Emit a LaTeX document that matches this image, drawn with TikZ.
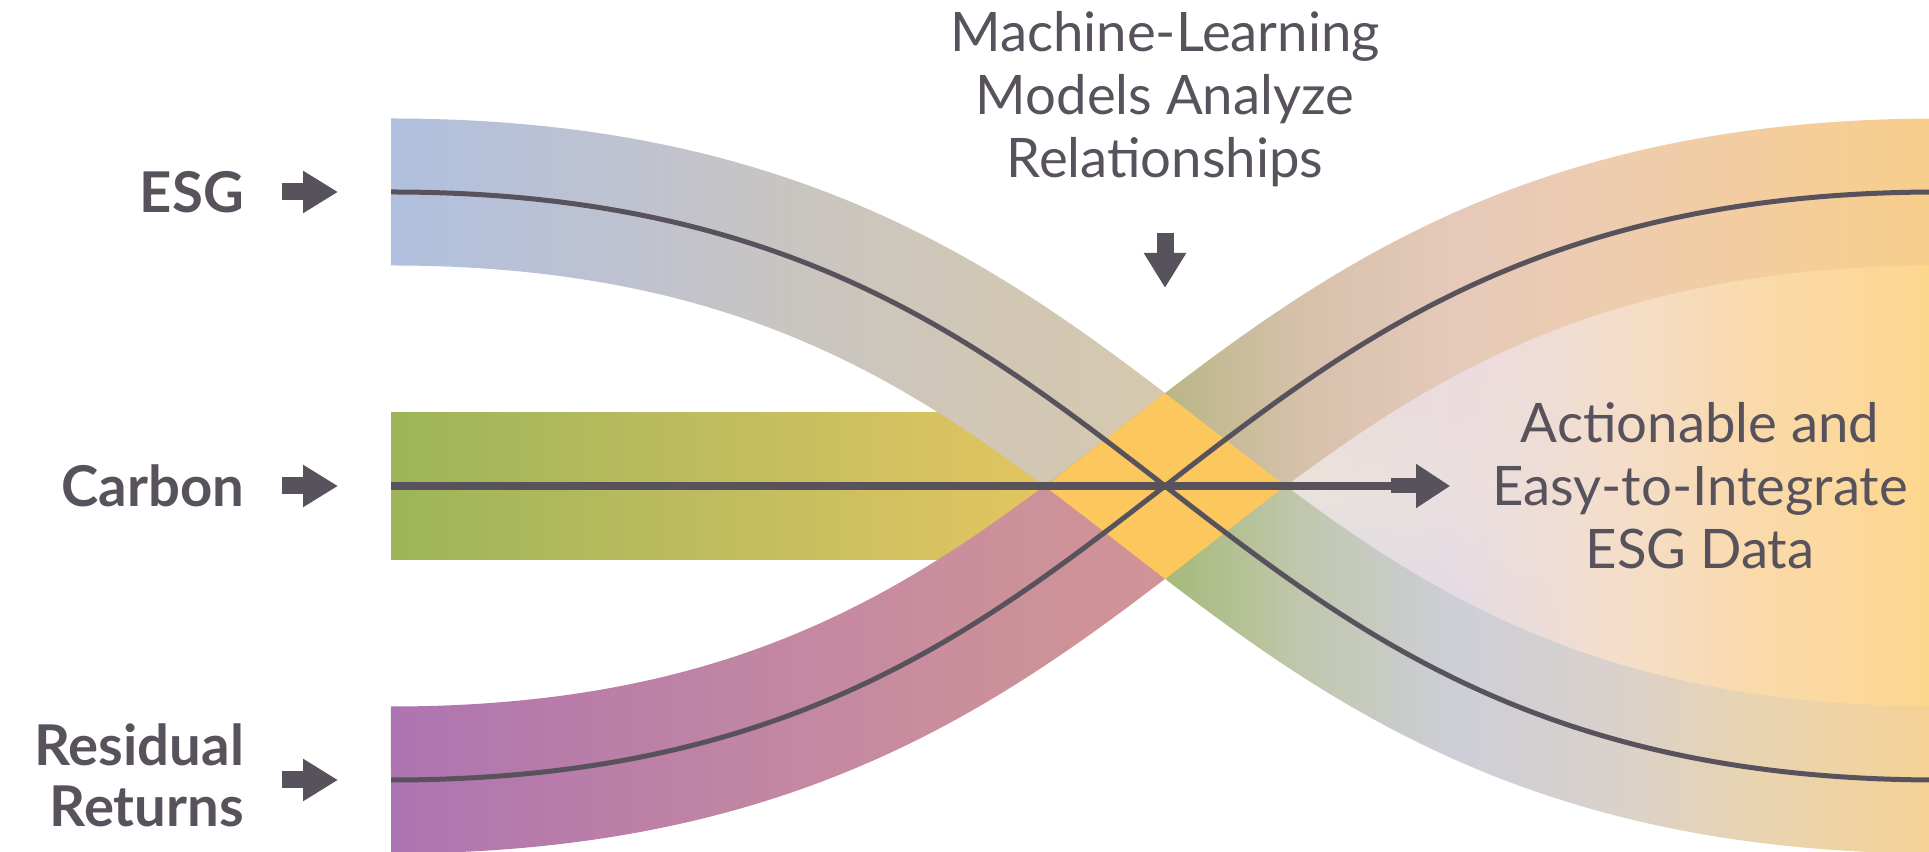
\documentclass[tikz,border=0pt]{standalone}
\usepackage{tikz}
\usepackage{fontspec}
\setmainfont{Lato}
\usetikzlibrary{positioning,calc,fadings,arrows.meta}

% colours
\definecolor{ink}{RGB}{88,82,92}
\definecolor{crosscol}{RGB}{252,200,94}
\definecolor{carbA}{RGB}{156,181,88}
\definecolor{carbB}{RGB}{198,190,96}
\definecolor{carbC}{RGB}{240,200,95}
% ESG band, left to right
\definecolor{esgA}{RGB}{176,192,222}
\definecolor{esgB}{RGB}{189,194,210}
\definecolor{esgC}{RGB}{201,197,192}
\definecolor{esgD}{RGB}{209,199,180}
\definecolor{esgE}{RGB}{213,200,174}
\definecolor{esgF}{RGB}{166,186,122}
\definecolor{esgG}{RGB}{192,199,172}
\definecolor{esgH}{RGB}{205,206,215}
\definecolor{esgI}{RGB}{216,209,205}
\definecolor{esgJ}{RGB}{233,212,178}
\definecolor{esgK}{RGB}{244,210,150}
% residual band, left to right
\definecolor{resA}{RGB}{174,116,178}
\definecolor{resB}{RGB}{186,126,168}
\definecolor{resC}{RGB}{196,136,162}
\definecolor{resD}{RGB}{204,144,154}
\definecolor{resE}{RGB}{208,148,150}
\definecolor{resF}{RGB}{186,182,136}
\definecolor{resG}{RGB}{214,193,170}
\definecolor{resH}{RGB}{229,201,186}
\definecolor{resI}{RGB}{237,204,176}
\definecolor{resJ}{RGB}{243,205,160}
\definecolor{resK}{RGB}{248,206,140}
% lens on the right
\definecolor{lensA}{RGB}{226,222,212}
\definecolor{lensB}{RGB}{230,220,222}
\definecolor{lensC}{RGB}{234,220,226}
\definecolor{lensD}{RGB}{243,222,206}
\definecolor{lensE}{RGB}{250,218,172}
\definecolor{lensF}{RGB}{253,214,142}
\definecolor{lavB}{RGB}{206,212,238}
\definecolor{creamC}{RGB}{236,230,220}
\definecolor{pinkT}{RGB}{238,214,212}

% 25bp..75bp of a shading = left..right (bottom..top) of the picture
\pgfdeclarehorizontalshading{esgshade}{100bp}{color(0bp)=(esgA); color(35.13bp)=(esgA);
	color(40.55bp)=(esgB); color(45.74bp)=(esgC); color(50.92bp)=(esgD); color(55.2bp)=(esgE);
	color(55.25bp)=(esgF); color(58.7bp)=(esgG); color(62.59bp)=(esgH); color(66.48bp)=(esgI);
	color(70.36bp)=(esgJ); color(75bp)=(esgK); color(100bp)=(esgK)}
\pgfdeclarehorizontalshading{resshade}{100bp}{color(0bp)=(resA); color(35.13bp)=(resA);
	color(40.55bp)=(resB); color(45.74bp)=(resC); color(50.92bp)=(resD); color(55.2bp)=(resE);
	color(55.25bp)=(resF); color(58.7bp)=(resG); color(62.59bp)=(resH); color(66.48bp)=(resI);
	color(70.36bp)=(resJ); color(75bp)=(resK); color(100bp)=(resK)}
\pgfdeclarehorizontalshading{lensshade}{100bp}{color(0bp)=(lensA); color(55.2bp)=(lensA);
	color(58.7bp)=(lensB); color(62.59bp)=(lensC); color(66.48bp)=(lensD);
	color(70.36bp)=(lensE); color(75bp)=(lensF); color(100bp)=(lensF)}
\pgfdeclareverticalshading{lenstint}{100bp}{color(0bp)=(lavB); color(36bp)=(lavB);
	color(46.5bp)=(creamC); color(56bp)=(pinkT); color(100bp)=(pinkT)}
\pgfdeclarehorizontalshading{tintmask}{100bp}{color(0bp)=(white); color(56bp)=(white);
	color(66bp)=(black); color(100bp)=(black)}

\def\picW{19.29} % picture width
\def\picH{8.52} % picture height
\def\xL{3.91} % bands start
\def\xR{19.39} % bands end
\def\xX{11.65} % crossing
\def\yT{6.60} % ESG level
\def\yC{3.66} % carbon level
\def\yB{0.72} % residual level
\def\ctl{7.9} % curve handle
\def\bandW{1.47cm} % band width

% a curved band as a fading, same box as the picture
\newcommand\bandfading[3]{%
\pgfdeclarefading{#1}{%
	\begin{pgfpicture}
		\pgfpathrectangle{\pgfpointorigin}{\pgfpointxy{\picW}{\picH}}
		\pgfusepath{use as bounding box}
		\pgfsetlinewidth{\bandW}
		\pgfsetstrokecolor{white}
		\pgfpathmoveto{\pgfpointxy{\xL}{#2}}
		\pgfpathcurveto{\pgfpointxy{\xL+\ctl}{#2}}{\pgfpointxy{\xR-\ctl}{#3}}{\pgfpointxy{\xR}{#3}}
		\pgfusepath{stroke}
	\end{pgfpicture}}%
}
% a left-to-right fade, same box as the picture
\newcommand\sidefading[1]{%
\pgfdeclarefading{#1}{%
	\begin{pgfpicture}
		\pgfpathrectangle{\pgfpointorigin}{\pgfpointxy{\picW}{\picH}}
		\pgfusepath{use as bounding box}
		\pgfpathrectangle{\pgfpointorigin}{\pgfpointxy{\picW}{\picH}}
		\pgfshadepath{tintmask}{0}
		\pgfusepath{discard}
	\end{pgfpicture}}%
}

\begin{document}
\begin{tikzpicture}[
	lbl/.style={font=\fontsize{16}{17.3}\selectfont\bfseries, text=ink, inner sep=0pt, outer sep=0pt, align=right},
	note/.style={font=\fontsize{15.5}{17.9}\selectfont, text=ink, inner sep=0pt, outer sep=0pt, align=center},
	blockarrow/.style={ink, line width=0.17cm, arrows={-Triangle[length=0.35cm,width=0.40cm]}},
	flow/.style={ink, line width=0.05cm},
	bandfade/.style={path fading=#1, fit fading=false, fading transform={shift={({\picW/2},{\picH/2})}}},
]
	%% some definitions
	\bandfading{esgfade}{\yT}{\yB}
	\bandfading{resfade}{\yB}{\yT}
	\sidefading{tintfade}
	\pgfsetlinewidth{0.4pt}

	\useasboundingbox (0,0) rectangle (\picW,\picH);
	\pgfmathsetmacro\angX{atan((\yT-\yB)/(\xR-\xL-\ctl))}
	\coordinate (X) at (\xX,\yC);
	\coordinate (esgin) at (\xL,\yT);
	\coordinate (carbin) at (\xL,\yC);
	\coordinate (resin) at (\xL,\yB);

	% pale lens right of the crossing
	\begin{scope}
		\clip (\xX,0) rectangle (\picW,\picH);
		\clip (\xL,\yT) .. controls (\xL+\ctl,\yT) and (\xR-\ctl,\yB) .. (\xR,\yB)
			-- (\xR,\yT) .. controls (\xR-\ctl,\yT) and (\xL+\ctl,\yB) .. (\xL,\yB) -- cycle;
		\shade[shading=lensshade] (0,0) rectangle (\picW,\picH);
		\shade[shading=lenstint, bandfade=tintfade] (0,0) rectangle (\picW,\picH);
	\end{scope}

	% carbon band
	\shade[left color=carbA, right color=carbC, middle color=carbB] (\xL,\yC-0.735) rectangle (\xX,\yC+0.735);

	% the two curved bands
	\shade[shading=esgshade, bandfade=esgfade] (0,0) rectangle (\picW,\picH);
	\shade[shading=resshade, bandfade=resfade] (0,0) rectangle (\picW,\picH);

	% where they overlap
	\begin{scope}
		\clip[shift={(X)}, rotate=\angX] (-2,-0.735) rectangle (2,0.735);
		\fill[crosscol, bandfade=esgfade] (0,0) rectangle (\picW,\picH);
	\end{scope}

	% centre lines
	\draw[flow] (esgin) .. controls (\xL+\ctl,\yT) and (\xR-\ctl,\yB) .. (\xR,\yB);
	\draw[flow] (resin) .. controls (\xL+\ctl,\yB) and (\xR-\ctl,\yT) .. (\xR,\yT);

	% texts
	\node[lbl, anchor=east] (esg) at (2.44,\yT) {ESG};
	\node[lbl, anchor=east] (carb) at (2.44,\yC) {Carbon};
	\node[lbl, anchor=east] (res) at (2.44,\yB+0.05) {Residual\\Returns};
	\node[note] (ml) at (\xX,7.53) {Machine-Learning\\Models Analyze\\Relationships};
	\node[note] (out) at (17.0,\yC) {Actionable and\\Easy-to-Integrate\\ESG Data};

	% arrows
	\draw[blockarrow] ([xshift=0.38cm]esg.east) -- ([xshift=-0.53cm]esgin);
	\draw[blockarrow] ([xshift=0.38cm]carb.east) -- ([xshift=-0.53cm]carbin);
	\draw[blockarrow] ([xshift=0.38cm]res.east |- resin) -- ([xshift=-0.53cm]resin);
	\draw[blockarrow] ([yshift=-0.46cm]ml.south) -- ([yshift=1.98cm]X);
	\draw[ink, line width=0.08cm, arrows={-{Rectangle[length=0.25cm,width=0.15cm] Triangle[length=0.34cm,width=0.42cm]}}]
		(carbin) -- ([xshift=-0.42cm]out.west);
\end{tikzpicture}
\end{document}
